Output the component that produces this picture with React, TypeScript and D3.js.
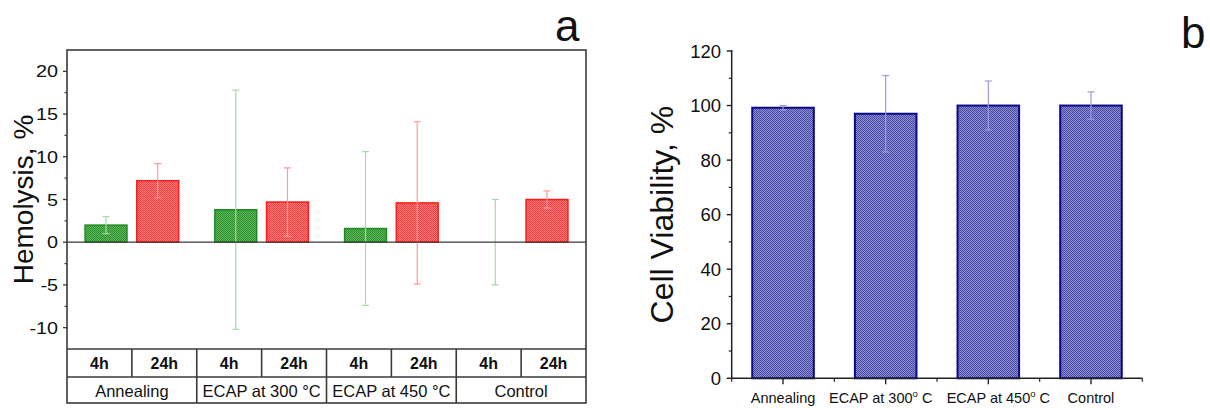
import React from "react";
import * as d3 from "d3";

// panel a: hemolysis
const hemoGroups = ["Annealing", "ECAP at 300 °C", "ECAP at 450 °C", "Control"];
const hemoTimes = ["4h", "24h"];
const hemo4h = [2.0, 3.8, 1.6, 0];
const hemo4hErr = [1.0, 14.0, 9.0, 5.0];
const hemo24h = [7.2, 4.7, 4.6, 5.0];
const hemo24hErr = [2.0, 4.0, 9.5, 1.0];
const hemoTicks = [-10, -5, 0, 5, 10, 15, 20];
const hemoMinor = [-7.5, -2.5, 2.5, 7.5, 12.5, 17.5];

// panel b: cell viability
const viabCats = ["Annealing", "ECAP at 300º C", "ECAP at 450º C", "Control"];
const viabVals = [99.2, 97.0, 100.0, 100.0];
const viabErr = [0.8, 14.0, 9.0, 5.0];
const viabTicks = [0, 20, 40, 60, 80, 100, 120];
const viabMinor = [10, 30, 50, 70, 90, 110];
// the long labels sit a little off their bars in the original
const viabLabelShift = [0, -5, 10, 0];

const FONT = "'Liberation Sans', Arial, sans-serif";
const FRAME = "#3a3a3a";

// label with superscript "o" in place of º
function supLabel(s: string) {
  const parts = s.split("º");
  if (parts.length === 1) return s;
  return (
    <>
      {parts[0]}
      <tspan fontSize={9.5} dy={-6}>o</tspan>
      <tspan dy={6}>{parts[1]}</tspan>
    </>
  );
}

function Hemolysis() {
  const left = 67, right = 586, top = 50, bottom = 349;
  const row1 = 377, row2 = 403;
  const y = d3.scaleLinear().domain([-12.5, 22.5]).range([bottom, top]);
  const gx = d3.scaleBand().domain(hemoGroups).range([left, right]).padding(0);
  const tx = d3.scaleBand().domain(hemoTimes).range([0, gx.bandwidth()])
    .paddingInner(0.19).paddingOuter(0.35);
  const colW = gx.bandwidth() / 2;

  const bars = hemoGroups.flatMap((g, i) => [
    { g, t: "4h", v: hemo4h[i], e: hemo4hErr[i] },
    { g, t: "24h", v: hemo24h[i], e: hemo24hErr[i] },
  ]);

  return (
    <g fontFamily={FONT}>
      {/* bars */}
      {bars.map((b, i) => {
        const x0 = (gx(b.g) as number) + (tx(b.t) as number);
        const green = b.t === "4h";
        if (b.v === 0) return null;
        return (
          <rect key={"b" + i} x={x0} width={tx.bandwidth()}
            y={y(Math.max(0, b.v))} height={Math.abs(y(b.v) - y(0))}
            fill={green ? "url(#patGreen)" : "url(#patRed)"}
            stroke={green ? "#1f8a1f" : "#ff1a1a"} strokeWidth={1.5} />
        );
      })}
      {/* error bars */}
      {bars.map((b, i) => {
        const cx = (gx(b.g) as number) + (tx(b.t) as number) + tx.bandwidth() / 2;
        const c = b.t === "4h" ? "#a8d8a8" : "#ff9a9a";
        return (
          <g key={"e" + i} stroke={c} strokeWidth={1.2}>
            <line x1={cx} x2={cx} y1={y(b.v + b.e)} y2={y(b.v - b.e)} />
            <line x1={cx - 3.5} x2={cx + 3.5} y1={y(b.v + b.e)} y2={y(b.v + b.e)} />
            <line x1={cx - 3.5} x2={cx + 3.5} y1={y(b.v - b.e)} y2={y(b.v - b.e)} />
          </g>
        );
      })}
      {/* zero line */}
      <line x1={left} x2={right} y1={y(0)} y2={y(0)} stroke={FRAME} strokeWidth={1.3} />
      {/* frame */}
      <rect x={left} y={top} width={right - left} height={row2 - top} fill="none" stroke={FRAME} strokeWidth={1.6} />
      {/* table */}
      <line x1={left} x2={right} y1={bottom} y2={bottom} stroke={FRAME} strokeWidth={1.6} />
      <line x1={left} x2={right} y1={row1} y2={row1} stroke={FRAME} strokeWidth={1.6} />
      {hemoGroups.map((g, i) => (
        <g key={"tg" + i}>
          {i > 0 && <line x1={gx(g)} x2={gx(g)} y1={bottom} y2={row2} stroke={FRAME} strokeWidth={1.6} />}
          <line x1={(gx(g) as number) + colW} x2={(gx(g) as number) + colW} y1={bottom} y2={row1} stroke={FRAME} strokeWidth={1.6} />
          {hemoTimes.map((t, j) => (
            <text key={t} x={(gx(g) as number) + colW * j + colW / 2} y={369} textAnchor="middle"
              fontSize={16} fontWeight="bold" fill="#111">{t}</text>
          ))}
          <text x={(gx(g) as number) + gx.bandwidth() / 2} y={397} textAnchor="middle" fontSize={16.5} fill="#111">{g}</text>
        </g>
      ))}
      {/* y ticks */}
      {hemoTicks.map((t) => (
        <g key={"t" + t}>
          <line x1={left - 4} x2={left} y1={y(t)} y2={y(t)} stroke={FRAME} strokeWidth={1.3} />
          <g transform={`translate(58,${y(t) + 6}) scale(1.2,1)`}>
            <text textAnchor="end" fontSize={16.5} fill="#111">{t}</text>
          </g>
        </g>
      ))}
      {hemoMinor.map((t) => (
        <line key={"m" + t} x1={left - 2.5} x2={left} y1={y(t)} y2={y(t)} stroke={FRAME} strokeWidth={1.2} />
      ))}
      <text transform={`translate(33,${(top + bottom) / 2}) rotate(-90)`} textAnchor="middle" fontSize={28} fill="#111">Hemolysis, %</text>
      <text x={555} y={41} fontSize={44} fill="#111">a</text>
    </g>
  );
}

function Viability() {
  const left = 731.7, right = 1142.3, top = 51, bottom = 378.3;
  const y = d3.scaleLinear().domain([0, 120]).range([bottom, top]);
  const x = d3.scaleBand().domain(viabCats).range([left, right]).paddingInner(0.4).paddingOuter(0.2);
  const step = x.step();
  const bounds = d3.range(viabCats.length + 1).map((i) => left + i * step);

  return (
    <g fontFamily={FONT}>
      {viabCats.map((c, i) => (
        <rect key={"b" + i} x={x(c)} width={x.bandwidth()} y={y(viabVals[i])} height={bottom - y(viabVals[i])}
          fill="url(#patBlue)" stroke="#0a0a86" strokeWidth={2} />
      ))}
      {viabCats.map((c, i) => {
        const cx = (x(c) as number) + x.bandwidth() / 2;
        const hi = y(viabVals[i] + viabErr[i]);
        const lo = y(viabVals[i] - viabErr[i]);
        return (
          <g key={"e" + i} stroke="#9a9ae0" strokeWidth={1.2}>
            <line x1={cx} x2={cx} y1={hi} y2={lo} />
            <line x1={cx - 3.5} x2={cx + 3.5} y1={hi} y2={hi} />
            <line x1={cx - 3.5} x2={cx + 3.5} y1={lo} y2={lo} />
          </g>
        );
      })}
      {/* axes */}
      <line x1={left} x2={left} y1={top - 1} y2={bottom} stroke="#222" strokeWidth={1.5} />
      <line x1={left} x2={right} y1={bottom} y2={bottom} stroke="#222" strokeWidth={1.5} />
      {viabTicks.map((t) => (
        <g key={"t" + t}>
          <line x1={left - 5} x2={left} y1={y(t)} y2={y(t)} stroke="#222" strokeWidth={1.4} />
          <text x={721} y={y(t) + 6.5} textAnchor="end" fontSize={18.5} fill="#111">{t}</text>
        </g>
      ))}
      {viabMinor.map((t) => (
        <line key={"m" + t} x1={left - 3} x2={left} y1={y(t)} y2={y(t)} stroke="#222" strokeWidth={1.2} />
      ))}
      {viabCats.map((c, i) => {
        const cx = (x(c) as number) + x.bandwidth() / 2;
        return (
          <g key={"x" + i}>
            <line x1={cx} x2={cx} y1={bottom} y2={bottom + 6} stroke="#222" strokeWidth={1.4} />
            <text x={cx + viabLabelShift[i]} y={403} textAnchor="middle" fontSize={14.5} fill="#111">{supLabel(c)}</text>
          </g>
        );
      })}
      {bounds.map((b, i) => (
        <line key={"bd" + i} x1={b} x2={b} y1={bottom} y2={bottom + 3.5} stroke="#222" strokeWidth={1.2} />
      ))}
      <text transform={`translate(673,${(top + bottom) / 2}) rotate(-90)`} textAnchor="middle" fontSize={32} fill="#111">Cell Viability, %</text>
      <text x={1181} y={48} fontSize={44} fill="#111">b</text>
    </g>
  );
}

function Checker({ id, a, b }: { id: string; a: string; b: string }) {
  return (
    <pattern id={id} width={2} height={2} patternUnits="userSpaceOnUse">
      <rect width={2} height={2} fill={a} />
      <rect width={1} height={1} fill={b} />
      <rect x={1} y={1} width={1} height={1} fill={b} />
    </pattern>
  );
}

export default function App() {
  return (
    <svg width={1210} height={408} style={{ position: "absolute", left: 0, top: 0, background: "#fff" }}>
      <defs>
        <Checker id="patGreen" a="#5bb85b" b="#2f8f2f" />
        <Checker id="patRed" a="#ff8080" b="#ff3838" />
        <Checker id="patBlue" a="#8c8cd2" b="#4a4aa4" />
      </defs>
      <rect width={1210} height={408} fill="#fff" />
      <Hemolysis />
      <Viability />
    </svg>
  );
}
